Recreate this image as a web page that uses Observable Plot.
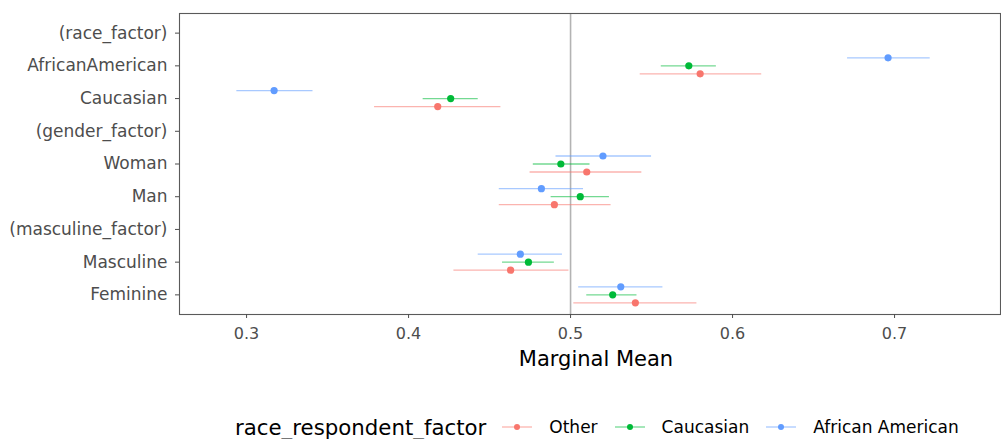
<!DOCTYPE html>
<html>
<head>
<meta charset="utf-8">
<script src="https://cdn.jsdelivr.net/npm/d3@7"></script>
<script src="https://cdn.jsdelivr.net/npm/@observablehq/plot@0.6"></script>
<style>
  html, body { margin: 0; padding: 0; background: #fff; }
  body { width: 1001px; height: 439px; position: relative; overflow: hidden; font-family: "DejaVu Sans", sans-serif; }
  #legend { position: absolute; left: 235px; top: 414px; height: 26px; display: flex; align-items: center; white-space: nowrap; }
  #legend .title { font-size: 21.3px; color: #000; margin-right: 15px; }
  #legend .item { display: flex; align-items: center; margin-right: 16px; }
  #legend .item svg { display: block; }
  #legend .item span { font-size: 17px; color: #000; margin-left: 16px; }
</style>
</head>
<body>
<div id="chart"></div>
<div id="legend"></div>
<script>
// ---- data ----
const terms = ["(race_factor)", "AfricanAmerican", "Caucasian", "(gender_factor)", "Woman", "Man", "(masculine_factor)", "Masculine", "Feminine"];
const groups = ["Other", "Caucasian", "African American"];
const xTicks = [0.3, 0.4, 0.5, 0.6, 0.7];

const otherEst   = [null, 0.580, 0.418, null, 0.510, 0.490, null, 0.463, 0.540];
const otherLow   = [null, 0.543, 0.379, null, 0.475, 0.456, null, 0.428, 0.502];
const otherHigh  = [null, 0.618, 0.457, null, 0.544, 0.525, null, 0.499, 0.578];

const caucEst    = [null, 0.573, 0.426, null, 0.494, 0.506, null, 0.474, 0.526];
const caucLow    = [null, 0.556, 0.409, null, 0.477, 0.488, null, 0.458, 0.510];
const caucHigh   = [null, 0.590, 0.443, null, 0.512, 0.524, null, 0.490, 0.541];

const afamEst    = [null, 0.696, 0.317, null, 0.520, 0.482, null, 0.469, 0.531];
const afamLow    = [null, 0.671, 0.294, null, 0.491, 0.456, null, 0.443, 0.505];
const afamHigh   = [null, 0.722, 0.341, null, 0.550, 0.508, null, 0.495, 0.557];

// ---- styles ----
const colors = {"Other": "#F8766D", "Caucasian": "#00BA38", "African American": "#619CFF"};
const dodge = {"Other": 8, "Caucasian": 0, "African American": -8};

const series = [
  {group: "Other", est: otherEst, low: otherLow, high: otherHigh},
  {group: "Caucasian", est: caucEst, low: caucLow, high: caucHigh},
  {group: "African American", est: afamEst, low: afamLow, high: afamHigh}
];

const rows = [];
for (const s of series) {
  terms.forEach((t, i) => {
    if (s.est[i] != null) rows.push({term: t, group: s.group, est: s.est[i], low: s.low[i], high: s.high[i]});
  });
}

const groupMarks = [];
for (const g of groups) {
  const d = rows.filter(r => r.group === g);
  groupMarks.push(Plot.ruleY(d, {y: "term", x1: "low", x2: "high", stroke: colors[g], strokeOpacity: 0.55, strokeWidth: 1.3, dy: dodge[g]}));
  groupMarks.push(Plot.dot(d, {y: "term", x: "est", fill: colors[g], r: 3.6, dy: dodge[g]}));
}

const plot = Plot.plot({
  width: 1001,
  height: 385,
  marginLeft: 179,
  marginRight: 1,
  marginTop: 13,
  marginBottom: 71,
  style: {fontFamily: "DejaVu Sans", fontSize: "16px", color: "#4d4d4d", background: "#fff"},
  x: {domain: [0.2586, 0.7654]},
  y: {type: "point", domain: terms, padding: 0.6, round: false},
  marks: [
    Plot.ruleX([0.5], {stroke: "#b3b3b3", strokeWidth: 1.6}),
    ...groupMarks,
    Plot.frame({stroke: "#5a5a5a", strokeWidth: 1.1}),
    Plot.axisX({ticks: xTicks, tickSize: 4, tickPadding: 9, tickFormat: d3.format(".1f"), label: null, fontSize: 16, color: "#4d4d4d"}),
    Plot.axisY({tickSize: 4, tickPadding: 8, label: null, fontSize: 17, color: "#4d4d4d"}),
    Plot.text(["Marginal Mean"], {frameAnchor: "bottom", dy: 51, dx: 6, fontSize: 21, fill: "#000"})
  ]
});
document.getElementById("chart").appendChild(plot);

// ---- legend ----
const legend = document.getElementById("legend");
const title = document.createElement("div");
title.className = "title";
title.textContent = "race_respondent_factor";
legend.appendChild(title);
for (const g of groups) {
  const item = document.createElement("div");
  item.className = "item";
  const svg = d3.create("svg").attr("width", 32).attr("height", 16);
  svg.append("line").attr("x1", 1).attr("x2", 31).attr("y1", 8).attr("y2", 8).attr("stroke", colors[g]).attr("stroke-opacity", 0.55).attr("stroke-width", 1.3);
  svg.append("circle").attr("cx", 16).attr("cy", 8).attr("r", 3).attr("fill", colors[g]);
  item.appendChild(svg.node());
  const lab = document.createElement("span");
  lab.textContent = g;
  item.appendChild(lab);
  legend.appendChild(item);
}
</script>
</body>
</html>
